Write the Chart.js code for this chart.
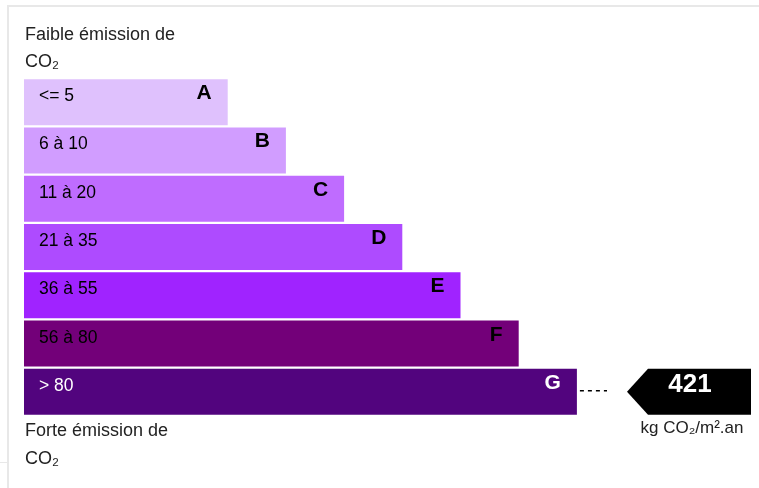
<!DOCTYPE html>
<html>
<head>
<meta charset="utf-8">
<script src="https://cdn.jsdelivr.net/npm/chart.js@4/dist/chart.umd.min.js"></script>
<style>
	body { margin: 0; background: #fff; }
	#wrap { position: relative; width: 759px; height: 488px; }
</style>
</head>
<body>
<div id="wrap"><canvas id="gesChart" width="759" height="488"></canvas></div>
<script>
// Classes and their range labels
var classes = ['A', 'B', 'C', 'D', 'E', 'F', 'G'];
var ranges = ['<= 5', '6 à 10', '11 à 20', '21 à 35', '36 à 55', '56 à 80', '> 80'];
// Bar lengths (relative, out of 100)
var barLengths = [35, 45, 55, 65, 75, 85, 95];
// Value of the building and its class
var emissionValue = 421;
var emissionClass = 'G';
var unitLabel = 'kg CO\u2082/m\u00b2.an';

var barColors = ['#dfc1fd', '#d19dff', '#bf6cff', '#ae4bff', '#a023ff', '#730079', '#52047e'];
var FONT = '"Liberation Sans", Arial, Helvetica, sans-serif';

//Draws the labels, captions and the value arrow
var gesPlugin = {
	id: 'gesPlugin',
	beforeDraw: function(chart)
	{
		var ctx = chart.ctx;
		ctx.save();
		// light frame of the page
		ctx.fillStyle = '#e8e8e8';
		ctx.fillRect(7, 5, chart.width - 7, 2);
		ctx.fillRect(7, 5, 2, chart.height - 5);
		ctx.fillRect(0, 462, 8, 1);
		ctx.restore();
	},
	afterDatasetsDraw: function(chart)
	{
		var ctx = chart.ctx;
		var area = chart.chartArea;
		var bars = chart.getDatasetMeta(0).data;
		ctx.save();

		for (var i = 0; i < bars.length; i++)
		{
			var bar = bars[i];
			var top = bar.y - bar.height / 2;
			var light = (i == bars.length - 1);
			ctx.fillStyle = light ? '#ffffff' : '#000000';
			ctx.textAlign = 'left';
			ctx.textBaseline = 'alphabetic';
			ctx.font = '17.5px ' + FONT;
			ctx.fillText(ranges[i], bar.base + 15, top + 22);
			ctx.textAlign = 'right';
			ctx.font = 'bold 21px ' + FONT;
			ctx.fillText(classes[i], bar.x - 16, top + 20);
		}

		// captions
		ctx.fillStyle = '#222222';
		ctx.textAlign = 'left';
		ctx.font = '18px ' + FONT;
		ctx.fillText('Faible émission de', area.left + 1, area.top - 38);
		ctx.fillText('CO\u2082', area.left + 1, area.top - 11);
		ctx.fillText('Forte émission de', area.left + 1, area.bottom + 20);
		ctx.fillText('CO\u2082', area.left + 1, area.bottom + 48);

		// value arrow
		var idx = classes.indexOf(emissionClass);
		var b = bars[idx];
		var bTop = b.y - b.height / 2;
		var bBottom = b.y + b.height / 2;
		var right = chart.width - 8;
		var tip = right - 124;
		var slant = 21;

		ctx.strokeStyle = '#000000';
		ctx.lineWidth = 1.5;
		ctx.setLineDash([4, 4]);
		ctx.beginPath();
		ctx.moveTo(b.x + 3, b.y - 1);
		ctx.lineTo(tip - 20, b.y - 1);
		ctx.stroke();
		ctx.setLineDash([]);

		ctx.fillStyle = '#000000';
		ctx.beginPath();
		ctx.moveTo(tip, b.y);
		ctx.lineTo(tip + slant, bTop);
		ctx.lineTo(right, bTop);
		ctx.lineTo(right, bBottom);
		ctx.lineTo(tip + slant, bBottom);
		ctx.closePath();
		ctx.fill();

		ctx.fillStyle = '#ffffff';
		ctx.textAlign = 'center';
		ctx.font = 'bold 26px ' + FONT;
		ctx.fillText(String(emissionValue), (tip + right) / 2 + 1, b.y);

		ctx.fillStyle = '#222222';
		ctx.font = '17px ' + FONT;
		ctx.fillText(unitLabel, (tip + right) / 2 + 3, bBottom + 18);

		ctx.restore();
	}
};

var ctx = document.getElementById('gesChart').getContext('2d');

var gesChart = new Chart(ctx, {
	type: 'bar',
	data: {
		labels: classes,
		datasets: [{
			data: barLengths,
			backgroundColor: barColors,
			borderWidth: 0,
			categoryPercentage: 1,
			barPercentage: 0.9526
		}]
	},
	options: {
		indexAxis: 'y',
		responsive: false,
		animation: false,
		devicePixelRatio: 1,
		layout: {
			padding: { left: 24, top: 78, right: 153, bottom: 72 }
		},
		scales: {
			x: { display: false, min: 0, max: 100 },
			y: { display: false }
		},
		plugins: {
			legend: { display: false },
			tooltip: { enabled: false }
		}
	},
	plugins: [gesPlugin]
});
</script>
</body>
</html>
